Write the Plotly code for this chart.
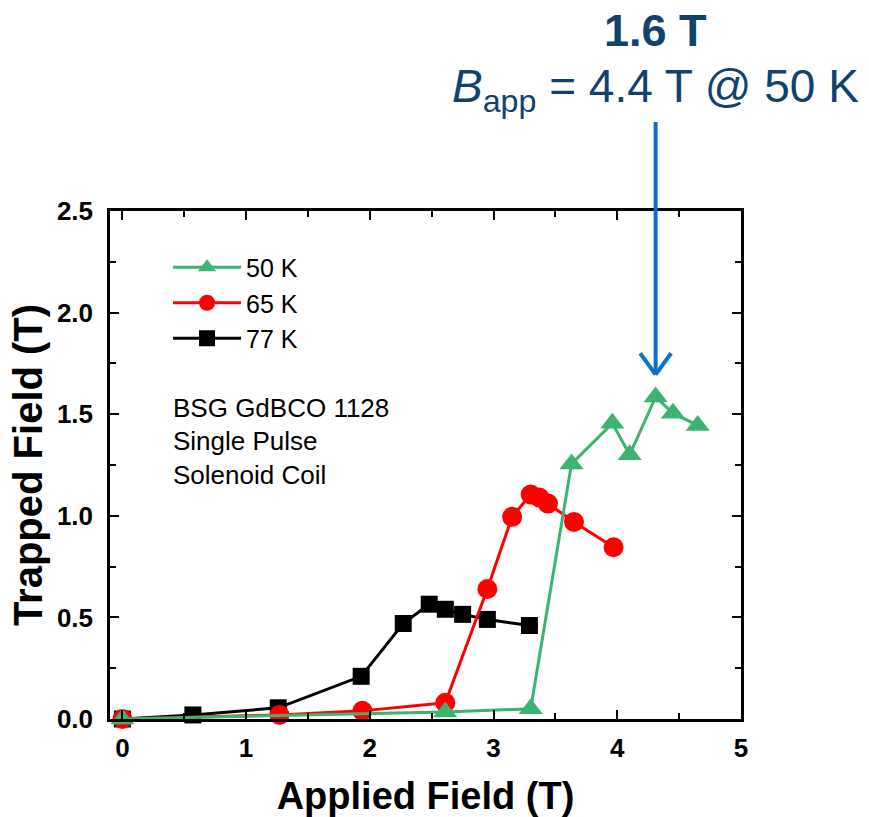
import plotly.graph_objects as go

# ---- data ----
x77 = [0.0, 0.57, 1.26, 1.93, 2.27, 2.48, 2.61, 2.75, 2.95, 3.29]
y77 = [0.0, 0.02, 0.055, 0.21, 0.47, 0.565, 0.54, 0.515, 0.49, 0.46]

x65 = [0.0, 1.27, 1.94, 2.61, 2.95, 3.15, 3.30, 3.37, 3.44, 3.65, 3.97]
y65 = [0.0, 0.02, 0.04, 0.08, 0.64, 0.995, 1.105, 1.09, 1.06, 0.97, 0.845]

x50 = [0.0, 2.61, 3.30, 3.63, 3.96, 4.10, 4.31, 4.45, 4.65]
y50 = [0.0, 0.035, 0.05, 1.255, 1.455, 1.30, 1.585, 1.505, 1.445]

note_lines = ["BSG GdBCO 1128", "Single Pulse", "Solenoid Coil"]
peak_x = 4.31

FONT = "Liberation Sans, Arial, sans-serif"
GREEN = "#3CB371"
RED = "#FF0000"
BLUE = "#0A72CC"
NAVY = "#11416F"

fig = go.Figure()
fig.add_trace(go.Scatter(x=x77, y=y77, name="77 K", mode="lines+markers",
                         line=dict(color="black", width=3),
                         marker=dict(symbol="square", size=17, color="black"),
                         cliponaxis=False))
fig.add_trace(go.Scatter(x=x65, y=y65, name="65 K", mode="lines+markers",
                         line=dict(color=RED, width=3),
                         marker=dict(symbol="circle", size=20, color=RED),
                         cliponaxis=False))
fig.add_trace(go.Scatter(x=x50, y=y50, name="50 K", mode="lines+markers",
                         line=dict(color=GREEN, width=3),
                         marker=dict(symbol="triangle-up", size=21, color=GREEN),
                         cliponaxis=False))

axis_common = dict(showline=True, linecolor="black", linewidth=2.5, mirror="ticks",
                   ticks="inside", ticklen=9, tickwidth=2, tickcolor="black",
                   showgrid=False, zeroline=False,
                   tickfont=dict(family=FONT, size=26, color="black", weight="bold"))

fig.update_xaxes(range=[-0.1, 5], tick0=0, dtick=1, ticklabelstandoff=4,
                 minor=dict(ticks="inside", dtick=0.5, ticklen=6, tickwidth=2, tickcolor="black"),
                 title=dict(text="Applied Field (T)", standoff=21,
                            font=dict(family=FONT, size=38, color="black", weight="bold")),
                 **axis_common)
fig.update_yaxes(range=[0, 2.5], tick0=0, dtick=0.5, tickformat=".1f", ticklabelstandoff=9,
                 minor=dict(ticks="inside", dtick=0.25, ticklen=6, tickwidth=2, tickcolor="black"),
                 title=dict(text="Trapped Field (T)", standoff=2,
                            font=dict(family=FONT, size=40, color="black", weight="bold")),
                 **axis_common)

note_y = [0.612, 0.547, 0.480]
annotations = []
for line, yy in zip(note_lines, note_y):
    annotations.append(dict(xref="paper", yref="paper", x=0.097, y=yy,
                            xanchor="left", yanchor="middle", showarrow=False, text=line,
                            font=dict(family=FONT, size=26, color="black")))
annotations.append(dict(xref="x", yref="paper", x=peak_x, y=1.356, xanchor="center",
                        yanchor="middle", showarrow=False, text="<b>1.6 T</b>",
                        font=dict(family=FONT, size=45, color=NAVY)))
annotations.append(dict(xref="x", yref="paper", x=peak_x, y=1.24, xanchor="center",
                        yanchor="middle", showarrow=False,
                        text="<i>B</i><sub>app</sub> = 4.4 T @ 50 K",
                        font=dict(family=FONT, size=46, color=NAVY)))

shapes = [
    dict(type="line", xref="x", yref="paper", x0=peak_x, x1=peak_x, y0=1.175, y1=0.68,
         line=dict(color=BLUE, width=4)),
    dict(type="line", xref="x", yref="paper", x0=peak_x - 0.125, x1=peak_x, y0=0.72, y1=0.678,
         line=dict(color=BLUE, width=4)),
    dict(type="line", xref="x", yref="paper", x0=peak_x + 0.125, x1=peak_x, y0=0.72, y1=0.678,
         line=dict(color=BLUE, width=4)),
]

fig.update_layout(
    width=869, height=817,
    margin=dict(l=110, r=128, t=211, b=98, autoexpand=False),
    plot_bgcolor="white", paper_bgcolor="white",
    font=dict(family=FONT, color="black"),
    showlegend=True,
    legend=dict(x=0.092, y=0.934, xanchor="left", yanchor="top",
                traceorder="reversed", bgcolor="rgba(0,0,0,0)",
                font=dict(family=FONT, size=25, color="black"),
                itemwidth=68, tracegroupgap=0),
    annotations=annotations,
    shapes=shapes,
)

fig.write_html("out.html")
